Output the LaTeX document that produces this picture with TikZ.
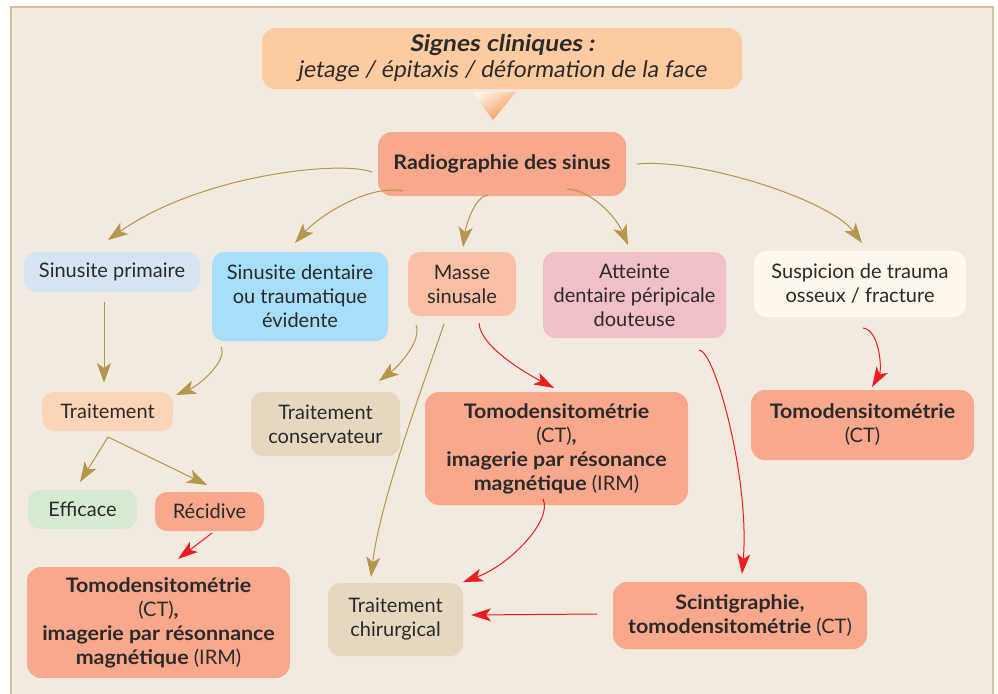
\documentclass[tikz,border=0pt]{standalone}
\usepackage{fontspec}
\setmainfont{Lato}[BoldFeatures={FakeStretch=1.07}]
\newfontfamily\oblfont{Lato}[FakeSlant=0.15, BoldFeatures={FakeStretch=1.07}]
\usetikzlibrary{arrows.meta}
\definecolor{bgc}{HTML}{F2EADF}
\definecolor{brd}{HTML}{D8C199}
\definecolor{txt}{HTML}{2B2A29}
\definecolor{sigc}{HTML}{FCCBA1}
\definecolor{salm}{HTML}{F8A88C}
\definecolor{spc}{HTML}{D5E5F3}
\definecolor{sdc}{HTML}{A7DEF9}
\definecolor{msc}{HTML}{F9BFA5}
\definecolor{atc}{HTML}{F1BFC7}
\definecolor{suc}{HTML}{FEF8EC}
\definecolor{trc}{HTML}{FCD5B8}
\definecolor{beig}{HTML}{E6D7C0}
\definecolor{efc}{HTML}{D6EAD2}
\definecolor{tanc}{HTML}{B5964E}
\definecolor{redc}{HTML}{ED1C24}
\definecolor{trio}{HTML}{F5964E}
\definecolor{tril}{HTML}{FEF0E4}
\begin{document}
\begin{tikzpicture}[x=1pt,y=-1pt,
  box/.style={rounded corners=12pt, align=center, inner sep=0pt, text=txt,
    font=\fontsize{20}{24}\selectfont},
  tanarr/.style={draw=tanc, line width=1pt, -{Stealth[length=20pt,width=14pt,inset=5pt]}},
  redarr/.style={draw=redc, line width=1pt, -{Stealth[length=20pt,width=13pt,inset=5pt]}}]
\useasboundingbox (0,0) rectangle (998,693);
\fill[white] (0,0) rectangle (998,693);
\begin{scope}
\clip (0,0) rectangle (998,693);
\filldraw[fill=bgc, draw=brd, line width=1.5pt] (11,7) rectangle (993,720);
\end{scope}

% nodes
\node[box, fill=sigc, minimum width=480pt, minimum height=61pt, rounded corners=14pt,
  font=\oblfont\fontsize{23}{26}\selectfont] (sig) at (502,58.5)
  {\textbf{Signes cliniques :}\\jetage / épitaxis / déformation de la face};
\node[box, fill=salm, minimum width=248pt, minimum height=64pt, rounded corners=14pt] (rad) at (502,164)
  {\textbf{Radiographie des sinus}};
\node[box, fill=spc, minimum width=176pt, minimum height=40pt] (sp) at (112,272) {Sinusite primaire};
\node[box, fill=sdc, minimum width=176pt, minimum height=89pt] (sd) at (300,296.5)
  {Sinusite dentaire\\ou traumatique\\évidente};
\node[box, fill=msc, minimum width=108pt, minimum height=64pt] (ms) at (462,284) {Masse\\sinusale};
\node[box, fill=atc, minimum width=183pt, minimum height=86pt] (at) at (634.5,295)
  {Atteinte\\dentaire péripicale\\douteuse};
\node[box, fill=suc, minimum width=212pt, minimum height=66pt] (su) at (860,284)
  {Suspicion de trauma\\osseux / fracture};
\node[box, fill=trc, minimum width=131pt, minimum height=39pt] (tr) at (107.5,411.5) {Traitement};
\node[box, fill=beig, minimum width=149pt, minimum height=64pt] (tc) at (325.5,424)
  {Traitement\\conservateur};
\node[box, fill=salm, minimum width=263pt, minimum height=113pt, rounded corners=14pt] (tm) at (556.5,448.5)
  {\textbf{Tomodensitométrie}\\(CT)\textbf{,}\\\textbf{imagerie par résonance}\\\textbf{magnétique} (IRM)};
\node[box, fill=salm, minimum width=223pt, minimum height=70pt, rounded corners=14pt] (trt) at (862.5,425)
  {\textbf{Tomodensitométrie}\\(CT)};
\node[box, fill=efc, minimum width=109pt, minimum height=39pt] (ef) at (82.5,509.5) {Efficace};
\node[box, fill=salm, minimum width=109pt, minimum height=39pt] (re) at (209.5,511.5) {Récidive};
\node[box, fill=salm, minimum width=263pt, minimum height=111pt, rounded corners=14pt] (tb) at (158.5,622.5)
  {\textbf{Tomodensitométrie}\\(CT)\textbf{,}\\\textbf{imagerie par résonnance}\\\textbf{magnétique} (IRM)};
\node[box, fill=beig, minimum width=135pt, minimum height=73pt] (ch) at (395.5,619.5)
  {Traitement\\chirurgical};
\node[box, fill=salm, minimum width=254pt, minimum height=67pt, rounded corners=14pt] (sc) at (740,615.5)
  {\textbf{Scintigraphie,}\\\textbf{tomodensitométrie} (CT)};

% gradient triangle between sig and rad
\shade[left color=tril, right color=trio, shading angle=30] (472,92) -- (516,92) -- (493,120) -- cycle;

% connector end points
\coordinate (r1) at (372,172); \coordinate (sp1) at (108,240);
\coordinate (r2) at (403,191); \coordinate (sd1) at (295,243);
\coordinate (r3) at (488,195); \coordinate (ms1) at (463,247);
\coordinate (r4) at (567,189); \coordinate (at1) at (628,245);
\coordinate (r5) at (637,164); \coordinate (su1) at (862,243);
\coordinate (sp2) at (104,302); \coordinate (tr1) at (104,383);
\coordinate (sd2) at (221,347); \coordinate (tr2) at (176,395);
\coordinate (ms2) at (416,325); \coordinate (tc1) at (379,381);
\coordinate (ms3) at (444,324); \coordinate (ch1) at (371,577);
\coordinate (ms4) at (479,323); \coordinate (tm1) at (554,388);
\coordinate (tm2) at (543,499); \coordinate (ch2) at (463,582);
\coordinate (at2) at (699,350); \coordinate (sc1) at (742,574);
\coordinate (su2) at (863,328); \coordinate (trt1) at (872,387);
\coordinate (sc2) at (597,614); \coordinate (ch3) at (471,615);
\coordinate (tr3) at (108,437); \coordinate (ef1) at (80,482); \coordinate (re1) at (207,485);
\coordinate (re2) at (212,533); \coordinate (tb1) at (178,559);

% tan connectors
\draw[tanarr] (r1) .. controls (340,160) and (200,175) .. (sp1);
\draw[tanarr] (r2) .. controls (370,184) and (320,215) .. (sd1);
\draw[tanarr] (r3) .. controls (475,196) and (466,225) .. (ms1);
\draw[tanarr] (r4) .. controls (590,190) and (615,215) .. (at1);
\draw[tanarr] (r5) .. controls (700,158) and (830,200) .. (su1);
\draw[tanarr] (sp2) -- (tr1);
\draw[tanarr] (sd2) .. controls (228,360) and (200,385) .. (tr2);
\draw[tanarr] (ms2) .. controls (422,340) and (400,365) .. (tc1);
\draw[tanarr] (ms3) .. controls (425,380) and (380,500) .. (ch1);
\draw[tanarr] (tr3) -- (ef1);
\draw[tanarr] (tr3) -- (re1);

% red connectors
\draw[redarr] (ms4) .. controls (480,345) and (520,370) .. (tm1);
\draw[redarr] (tm2) .. controls (553,520) and (510,565) .. (ch2);
\draw[redarr] (at2) .. controls (715,350) and (750,480) .. (sc1);
\draw[redarr] (su2) .. controls (880,330) and (882,370) .. (trt1);
\draw[redarr] (sc2) -- (ch3);
\draw[redarr] (re2) -- (tb1);
\end{tikzpicture}
\end{document}
